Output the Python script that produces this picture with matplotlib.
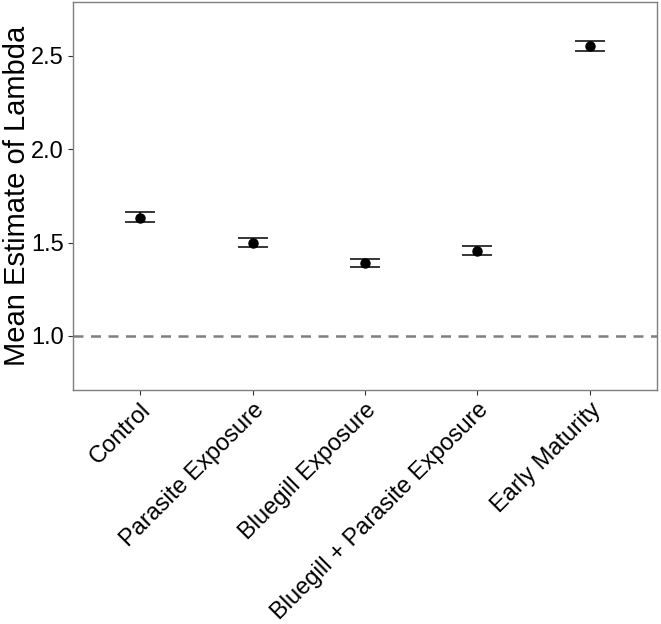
import numpy as np
from matplotlib import pyplot as plt

plt.rcParams['font.family'] = ['Liberation Sans', 'DejaVu Sans']

# Data
treatments = ['Control', 'Parasite Exposure', 'Bluegill Exposure',
              'Bluegill + Parasite Exposure', 'Early Maturity']
mean_lambda = [1.634, 1.498, 1.392, 1.457, 2.554]
lower_ci = [1.608, 1.475, 1.368, 1.434, 2.528]
upper_ci = [1.663, 1.524, 1.412, 1.481, 2.579]

x = np.arange(len(treatments))
mean_lambda = np.array(mean_lambda)
yerr = np.array([mean_lambda - np.array(lower_ci),
                 np.array(upper_ci) - mean_lambda])

fig = plt.figure(figsize=(6.61, 6.24), dpi=100)
ax = fig.add_axes([0.110, 0.375, 0.884, 0.622])

# reference line at lambda = 1
ax.axhline(1.0, color='#808080', lw=1.8, ls=(0, (4, 3)), zorder=1)

ax.errorbar(x, mean_lambda, yerr=yerr, fmt='o', color='black',
            markersize=6.5, elinewidth=1.1, capsize=11, capthick=1.1,
            zorder=3)

ax.set_xlim(-0.6, len(treatments) - 0.4)
ax.set_ylim(0.71, 2.79)
ax.set_yticks([1.0, 1.5, 2.0, 2.5])
ax.set_yticklabels(['1.0', '1.5', '2.0', '2.5'])
ax.set_xticks(x)
ax.set_xticklabels(treatments, rotation=45, ha='right', rotation_mode='anchor')

ax.tick_params(axis='both', labelsize=17, colors='#333333', length=3.5,
               width=0.8, labelcolor='black', pad=3)
for side in ax.spines.values():
    side.set_color('#7f7f7f')
    side.set_linewidth(1.0)

ax.set_ylabel('Mean Estimate of Lambda', fontsize=21)
ax.yaxis.set_label_coords(-0.072, 0.5)

fig.savefig('out.png', dpi=100)
